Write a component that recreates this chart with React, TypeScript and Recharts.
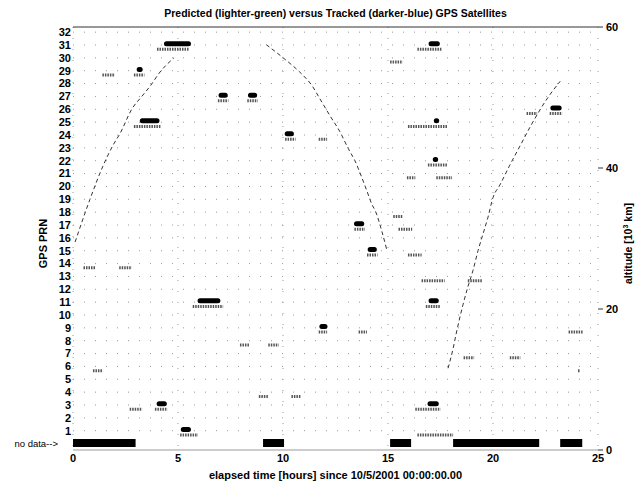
import React from "react";
import {
  ComposedChart,
  Line,
  XAxis,
  YAxis,
  CartesianGrid,
  ReferenceLine,
  Label,
} from "recharts";

// [prn, start hour, end hour]
const predictedPasses: [number, number, number][] = [
  [31, 4.0, 5.5], [31, 16.4, 17.55],
  [30, 15.1, 15.7],
  [29, 1.4, 2.0], [29, 2.9, 3.4],
  [27, 6.9, 7.4], [27, 8.3, 8.8],
  [26, 21.6, 22.1], [26, 22.7, 23.3],
  [25, 2.9, 4.2], [25, 15.95, 17.85],
  [24, 10.1, 10.6], [24, 11.7, 12.1],
  [22, 16.9, 17.85],
  [21, 15.9, 16.3], [21, 17.3, 18.05],
  [18, 15.25, 15.7],
  [17, 13.4, 13.9], [17, 15.5, 16.15],
  [15, 14.0, 14.5], [15, 15.95, 16.6],
  [14, 0.5, 1.05], [14, 2.2, 2.8],
  [13, 16.6, 17.7], [13, 18.8, 19.5],
  [11, 5.7, 7.15], [11, 16.8, 17.5],
  [9, 11.7, 12.1], [9, 13.6, 14.0], [9, 23.6, 24.3],
  [8, 7.95, 8.4], [8, 9.3, 9.8],
  [7, 18.6, 19.1], [7, 20.8, 21.3],
  [6, 0.95, 1.43], [6, 24.05, 24.15],
  [4, 8.85, 9.3], [4, 10.4, 10.85],
  [3, 2.7, 3.3], [3, 3.9, 4.5], [3, 16.3, 17.5],
  [1, 5.1, 5.95], [1, 16.4, 18.1],
];

const trackedPasses: [number, number, number][] = [
  [31, 4.45, 5.5], [31, 17.05, 17.35],
  [29, 3.15, 3.2],
  [27, 7.05, 7.25], [27, 8.45, 8.65],
  [26, 22.85, 23.15],
  [25, 3.3, 4.0], [25, 17.3, 17.32],
  [24, 10.2, 10.4],
  [22, 17.25, 17.27],
  [17, 13.5, 13.75],
  [15, 14.15, 14.35],
  [11, 6.05, 6.9], [11, 17.05, 17.3],
  [9, 11.85, 12.0],
  [3, 4.1, 4.35], [3, 17.0, 17.3],
  [1, 5.25, 5.5],
];

// [start hour, end hour]
const noDataSpans: [number, number][] = [
  [0, 2.98], [9.05, 10.05], [15.1, 16.1], [18.1, 22.2], [23.2, 24.25],
];

// [hour, altitude 10^3 km]
const altitudeArc1: [number, number][] = [
  [0.1, 29.5], [0.8, 35.5], [1.43, 40.3], [1.9, 43.2], [2.24, 44.9],
  [2.81, 48.4], [3.29, 50.2], [3.67, 51.6], [4.14, 53.6], [4.8, 55.6],
];
const altitudeArc2: [number, number][] = [
  [9.2, 57.5], [10.1, 55.4], [10.8, 53.6], [11.4, 51.6], [11.76, 49.8],
  [12.24, 47.4], [12.7, 45.2], [13.1, 42.8], [13.43, 41], [13.76, 38.6],
  [14.0, 36.7], [14.24, 34.8], [14.4, 33.9], [14.7, 31.1], [14.95, 28.3],
];
const altitudeArc3: [number, number][] = [
  [17.86, 11.6], [18.1, 14.4], [18.24, 16.4], [18.57, 20.6], [18.8, 23.1],
  [19.05, 25.5], [19.29, 28.3], [19.52, 30.6], [19.76, 33], [20.0, 35.8],
  [20.33, 37.6], [20.8, 40.4], [21.3, 43.2], [21.8, 46], [22.57, 49.8],
  [23.2, 52.3],
];

const prnTicks = [
  0, 1, 2, 3, 4, 5, 6, 7, 8, 9, 10, 11, 12, 13, 14, 15, 16,
  17, 18, 19, 20, 21, 22, 23, 24, 25, 26, 27, 28, 29, 30, 31, 32,
];
const hourTicks = [0, 5, 10, 15, 20, 25];
const altTicks = [0, 20, 40, 60];

const FONT = "'Liberation Sans', Arial, sans-serif";

type Pt = { x: number; y: number | null };

function segments(spans: [number, number, number][], shift: number): Pt[] {
  return spans.flatMap(([prn, s, e]) => [
    { x: s, y: prn + shift },
    { x: e, y: prn + shift },
    { x: e, y: null },
  ]);
}

const predictedRows = segments(predictedPasses, -0.33);
const trackedRows = segments(trackedPasses, 0.1);
const noDataRows = segments(
  noDataSpans.map(([s, e]) => [0, s, e] as [number, number, number]),
  0.05
);
const altitudeRows: Pt[] = [altitudeArc1, altitudeArc2, altitudeArc3].flatMap(
  (arc) => [...arc.map(([x, y]) => ({ x, y })), { x: arc[arc.length - 1][0], y: null }]
);

// eslint-disable-next-line @typescript-eslint/no-explicit-any
function PrnTick(props: any) {
  const { x, y, payload } = props;
  if (payload.value === 0) {
    return (
      <text x={x - 13} y={y} dy="0.35em" textAnchor="end" fontSize={9.5} fontFamily={FONT} fill="#000">
        no data--&gt;
      </text>
    );
  }
  return (
    <text x={x} y={y} dy="0.35em" textAnchor="end" fontSize={11} fontWeight="bold" fontFamily={FONT} fill="#000">
      {payload.value}
    </text>
  );
}

export default function App() {
  return (
    <div style={{ position: "absolute", left: 0, top: 0, width: 642, height: 482, background: "#fff" }}>
      <div
        style={{
          position: "absolute",
          left: 73,
          width: 525,
          top: 7,
          textAlign: "center",
          fontFamily: FONT,
          fontWeight: "bold",
          fontSize: 10.5,
          lineHeight: "12px",
          color: "#000",
        }}
      >
        Predicted (lighter-green) versus Tracked (darker-blue) GPS Satellites
      </div>
      <ComposedChart width={642} height={482} margin={{ top: 27, right: 0, bottom: 0, left: 0 }}>
        <CartesianGrid
          yAxisId="left"
          stroke="#999"
          strokeDasharray="1 10"
          horizontalValues={prnTicks.slice(1)}
          verticalValues={hourTicks}
        />
        <XAxis
          dataKey="x"
          type="number"
          domain={[0, 25]}
          ticks={hourTicks}
          allowDataOverflow
          height={32}
          tickSize={0}
          tickMargin={4}
          stroke="#999"
          tick={{ fill: "#000", fontSize: 11, fontWeight: "bold", fontFamily: FONT }}
        >
          <Label
            value="elapsed time [hours] since 10/5/2001 00:00:00.00"
            position="insideBottom"
            offset={3}
            style={{ fill: "#000", fontSize: 11, fontWeight: "bold", fontFamily: FONT }}
          />
        </XAxis>
        <YAxis
          yAxisId="left"
          type="number"
          domain={[-0.5, 32.4]}
          ticks={prnTicks}
          interval={0}
          allowDataOverflow
          width={73}
          tickSize={0}
          tickMargin={2}
          axisLine={false}
          tickLine={false}
          tick={<PrnTick />}
        >
          <Label
            content={(p: any) => {
              const vb = p.viewBox;
              const cx = vb.x + 47;
              const cy = vb.y + vb.height / 2 + 5;
              return (
                <text
                  x={cx}
                  y={cy}
                  transform={`rotate(-90 ${cx} ${cy})`}
                  textAnchor="middle"
                  fontSize={11}
                  fontWeight="bold"
                  fontFamily={FONT}
                  fill="#000"
                >
                  GPS PRN
                </text>
              );
            }}
          />
        </YAxis>
        <YAxis
          yAxisId="right"
          orientation="right"
          type="number"
          domain={[0, 60]}
          ticks={altTicks}
          allowDataOverflow
          width={44}
          tickSize={5}
          tickMargin={3}
          axisLine={false}
          stroke="#333"
          tick={{ fill: "#000", fontSize: 11, fontWeight: "bold", fontFamily: FONT }}
        >
          <Label
            content={(p: any) => {
              const vb = p.viewBox;
              const cx = vb.x + 34;
              const cy = vb.y + vb.height / 2 + 5;
              return (
                <text
                  x={cx}
                  y={cy}
                  transform={`rotate(-90 ${cx} ${cy})`}
                  textAnchor="middle"
                  fontSize={10.5}
                  fontWeight="bold"
                  fontFamily={FONT}
                  fill="#000"
                >
                  altitude [10
                  <tspan dy={-4} fontSize={7}>3</tspan>
                  <tspan dy={4}> km]</tspan>
                </text>
              );
            }}
          />
        </YAxis>
        <ReferenceLine yAxisId="left" y={32.4} stroke="#333" strokeWidth={1} />
        <Line
          yAxisId="right"
          data={altitudeRows}
          dataKey="y"
          type="monotone"
          stroke="#333"
          strokeWidth={1}
          strokeDasharray="4 3"
          dot={false}
          activeDot={false}
          connectNulls={false}
          isAnimationActive={false}
        />
        <Line
          yAxisId="left"
          data={noDataRows}
          dataKey="y"
          type="linear"
          stroke="#000"
          strokeWidth={8}
          strokeLinecap="butt"
          dot={false}
          activeDot={false}
          connectNulls={false}
          isAnimationActive={false}
        />
        <Line
          yAxisId="left"
          data={predictedRows}
          dataKey="y"
          type="linear"
          stroke="#555"
          strokeWidth={3}
          strokeDasharray="1.5 1"
          dot={false}
          activeDot={false}
          connectNulls={false}
          isAnimationActive={false}
        />
        <Line
          yAxisId="left"
          data={trackedRows}
          dataKey="y"
          type="linear"
          stroke="#000"
          strokeWidth={5}
          strokeLinecap="round"
          dot={false}
          activeDot={false}
          connectNulls={false}
          isAnimationActive={false}
        />
      </ComposedChart>
    </div>
  );
}
